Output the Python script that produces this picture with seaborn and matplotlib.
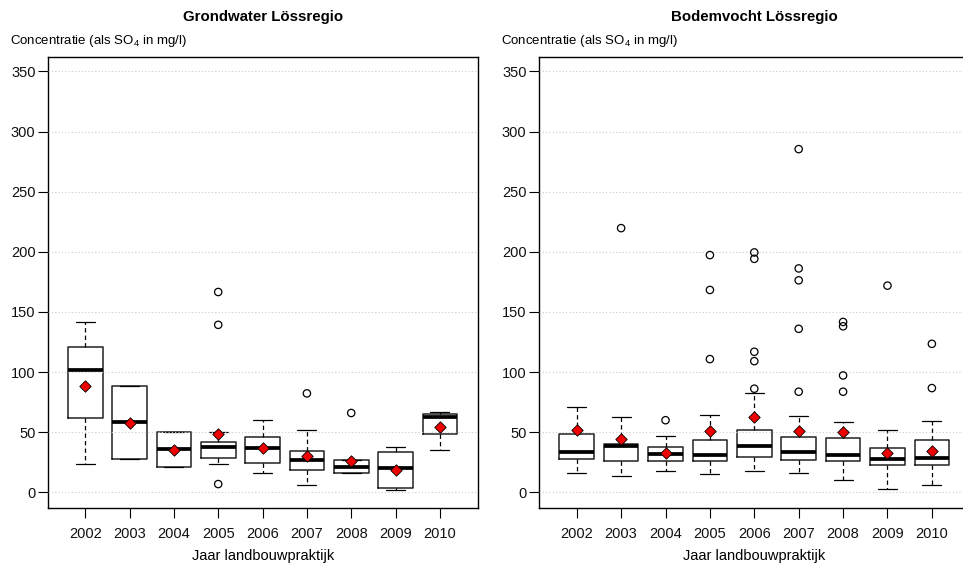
import matplotlib
matplotlib.use('Agg')
import matplotlib.pyplot as plt
import seaborn as sns
import pandas as pd

years = ['2002', '2003', '2004', '2005', '2006', '2007', '2008', '2009', '2010']

# Grondwater Lössregio
gw_lo = [23.5, 27.6, 21.2, 23.5, 15.7, 6.0, 15.7, 1.7, 35.3]
gw_q1 = [62.2, 27.6, 21.2, 28.4, 24.8, 18.2, 15.7, 3.3, 48.9]
gw_med = [101.4, 58.3, 35.9, 37.8, 36.7, 27.0, 21.5, 20.1, 62.7]
gw_q3 = [121.0, 88.4, 50.0, 42.0, 46.1, 34.5, 26.5, 33.7, 64.9]
gw_hi = [141.7, 88.4, 50.0, 50.0, 60.0, 51.6, 27.0, 37.8, 67.1]
gw_mean = [88.7, 58.0, 35.5, 48.9, 36.5, 30.0, 26.2, 19.0, 54.7]
gw_fliers = [[], [], [], [166.6, 139.3, 6.9], [], [82.3], [66.0], [], []]

# Bodemvocht Lössregio
bv_lo = [15.7, 13.3, 17.4, 15.2, 17.9, 15.7, 10.5, 3.0, 5.8]
bv_q1 = [27.6, 25.7, 25.7, 25.7, 29.8, 27.0, 26.2, 22.6, 22.4]
bv_med = [33.2, 38.6, 31.5, 30.9, 38.4, 33.2, 30.7, 27.6, 28.4]
bv_q3 = [48.6, 40.6, 38.1, 43.9, 51.6, 46.1, 45.3, 37.3, 43.4]
bv_hi = [71.3, 63.0, 47.2, 64.4, 82.3, 63.8, 58.3, 52.2, 59.1]
bv_mean = [51.6, 44.2, 32.8, 51.4, 62.7, 50.8, 50.3, 32.8, 34.0]
bv_fliers = [[], [219.7], [60.0], [197.3, 168.3, 110.8],
             [199.5, 194.2, 116.9, 109.1, 86.2],
             [285.4, 186.2, 176.3, 136.0, 83.7],
             [141.7, 138.1, 97.2, 83.7], [171.9], [123.5, 86.7]]

titles = ['Grondwater Lössregio', 'Bodemvocht Lössregio']
ylabel = 'Concentratie (als SO$_4$ in mg/l)'
xlabel = 'Jaar landbouwpraktijk'

sns.set_theme(style='white')
plt.rcParams['font.family'] = ['Liberation Sans', 'DejaVu Sans']
plt.rcParams['mathtext.fontset'] = 'custom'
plt.rcParams['mathtext.rm'] = 'Liberation Sans'
plt.rcParams['mathtext.default'] = 'rm'
plt.rcParams['text.color'] = 'black'
plt.rcParams['axes.labelcolor'] = 'black'

fig = plt.figure(figsize=(9.63, 5.66), dpi=100)
ax1 = fig.add_axes([48 / 963, 1 - 508 / 566, 430 / 963, 451 / 566])
ax2 = fig.add_axes([539 / 963, 1 - 508 / 566, 430.6 / 963, 451 / 566])

panels = [
    (ax1, gw_lo, gw_q1, gw_med, gw_q3, gw_hi, gw_mean, gw_fliers, (-0.84, 8.86)),
    (ax2, bv_lo, bv_q1, bv_med, bv_q3, bv_hi, bv_mean, bv_fliers, (-0.85, 8.85)),
]

for i, (ax, lo, q1, med, q3, hi, mean, fliers, xl) in enumerate(panels):
    stats = [dict(med=med[k], q1=q1[k], q3=q3[k], whislo=lo[k], whishi=hi[k], fliers=[])
             for k in range(len(years))]
    pos = list(range(len(years)))
    ax.bxp(stats, positions=pos, widths=0.78, capwidths=0.43, showfliers=False,
           patch_artist=False,
           boxprops=dict(color='#222222', linewidth=1.1),
           medianprops=dict(color='black', linewidth=2.7),
           whiskerprops=dict(color='black', linewidth=0.9, linestyle=(0, (3.5, 2.5))),
           capprops=dict(color='black', linewidth=0.9))
    fdf = pd.DataFrame([(k, v) for k, fl in enumerate(fliers) for v in fl], columns=['pos', 'val'])
    if len(fdf):
        sns.scatterplot(data=fdf, x='pos', y='val', ax=ax, marker='o', s=28,
                        facecolor='none', edgecolor='black', linewidth=0.9, zorder=4)
    mdf = pd.DataFrame({'pos': pos, 'val': mean})
    sns.scatterplot(data=mdf, x='pos', y='val', ax=ax, marker='D', s=34,
                    color='#ee0000', edgecolor='black', linewidth=0.6, zorder=5)

    ax.set_xlim(*xl)
    ax.set_ylim(-13, 362)
    ax.set_yticks(range(0, 351, 50))
    ax.set_xticks(pos)
    ax.set_xticklabels(years)
    ax.set_xlabel(xlabel, fontsize=10.5, labelpad=6)
    ax.set_ylabel('')
    ax.yaxis.grid(True, color='#cccccc', linestyle=(0, (1, 2)), linewidth=0.8)
    ax.xaxis.grid(False)
    ax.set_axisbelow(False)
    ax.tick_params(axis='both', which='both', direction='out', length=7, width=0.8,
                   color='black', labelsize=10.5, bottom=True, left=True, labelcolor='#111111')
    ax.tick_params(axis='x', pad=6.5)
    ax.tick_params(axis='y', pad=2)
    for s in ax.spines.values():
        s.set_visible(True)
        s.set_color('black')
        s.set_linewidth(1.0)
    cx = ax.get_position().x0 + ax.get_position().width / 2
    fig.text(cx, 1 - 17 / 566, titles[i], ha='center', va='center',
             fontsize=10.8, fontweight='bold')
    fig.text(ax.get_position().x0 - 38 / 963, 1 - 41 / 566, ylabel, ha='left', va='center',
             fontsize=9.5)

fig.savefig('out.png', dpi=100)
